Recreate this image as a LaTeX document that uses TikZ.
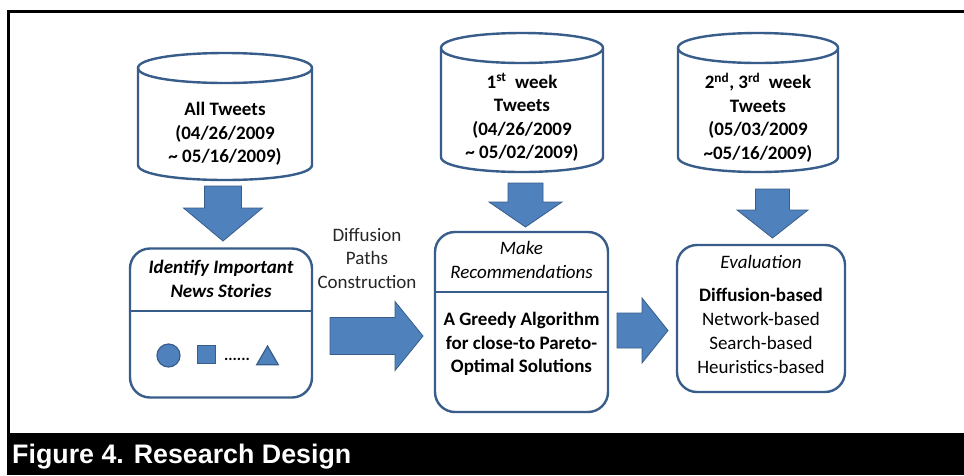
\documentclass[tikz,border=0pt]{standalone}
\usepackage{fontspec}
\setmainfont{Carlito}
\setsansfont{Liberation Sans}
\usetikzlibrary{shapes.geometric,positioning}
\definecolor{lineblue}{HTML}{385D8A}
\definecolor{fillblue}{HTML}{4F81BD}

\begin{document}
\begin{tikzpicture}[x=1pt, y=-1pt]
\tikzset{db/.style = {draw=lineblue, line width=2.4pt, fill=white, line join=round}}
\tikzset{stage/.style = {shape=rectangle, rounded corners=20pt, draw=lineblue, line width=2.4pt, inner sep=0pt}}
\tikzset{fat/.style = {fill=fillblue, draw=lineblue, line width=0.8pt, line join=miter}}
\tikzset{item/.style = {fill=fillblue, draw=lineblue, line width=1.2pt, inner sep=0pt}}
\tikzset{txt/.style = {font=\fontsize{19}{23.5}\selectfont, align=center, text=black, inner sep=0pt}}
% Page and frame
\useasboundingbox (0,0) rectangle (964,475);
\fill[white] (0,0) rectangle (964,475);
\draw[line width=3pt] (8,433) -- (8,11) -- (970,11);
\fill[black] (7,433) rectangle (964,475);
\node[anchor=base west, text=white, font=\sffamily\bfseries\fontsize{26.8}{30}\selectfont, inner sep=0pt] (caption) at (12,463) {Figure 4. Research Design};

% Tweet collections: left, right, top rim, bottom rim, name
\foreach \l/\r/\t/\b/\n in {138/312/68/165/db1, 441/603/48/157/db2, 678/838/48/157/db3}{
  \draw[db] (\l,\t) -- (\l,\b) .. controls (\l,\b+20) and (\r,\b+20) .. (\r,\b)
     -- (\r,\t) .. controls (\r,\t-20) and (\l,\t-20) .. (\l,\t) -- cycle;
  \draw[db, fill=none] (\l,\t) .. controls (\l,\t+20) and (\r,\t+20) .. (\r,\t);
  \coordinate (\n) at ({(\l+\r)/2},\b+15);
}
\node[txt, font=\fontsize{19}{23.5}\selectfont\bfseries] (db1text) at (225,134) {All Tweets\\(04/26/2009\\\textasciitilde{} 05/16/2009)};
\node[txt, font=\fontsize{19}{23.5}\selectfont\bfseries] (db2text) at (522,117.5) {1\textsuperscript{st}\ \ week\\Tweets\\(04/26/2009\\\textasciitilde{} 05/02/2009)};
\node[txt, font=\fontsize{19}{23.5}\selectfont\bfseries] (db3text) at (758,117.5) {2\textsuperscript{nd}, 3\textsuperscript{rd}\ \ week\\Tweets\\(05/03/2009\\\textasciitilde{}05/16/2009)};

% Stages
\node[stage, minimum width=182, minimum height=149] (box1) at (221,323) {};
\node[stage, minimum width=173, minimum height=180] (box2) at (521.5,322) {};
\node[stage, minimum width=168, minimum height=147] (box3) at (761,318.5) {};
\draw[lineblue, line width=2.4pt] (box1.west |- 0,311) -- (box1.east |- 0,311);
\draw[lineblue, line width=2.4pt] (box2.west |- 0,292) -- (box2.east |- 0,292);

\node[txt, font=\fontsize{19}{23.5}\selectfont\bfseries\itshape] (box1head) at (221,279) {Identify Important\\News Stories};
\node[txt, font=\fontsize{19}{23.5}\selectfont\itshape] (box2head) at (521.5,260) {Make\\Recommendations};
\node[txt, font=\fontsize{19}{23.5}\selectfont\bfseries] (box2body) at (521.5,344) {A Greedy Algorithm\\for close-to Pareto-\\Optimal Solutions};
\node[txt, font=\fontsize{19}{23.5}\selectfont\itshape] (box3head) at (761,262) {Evaluation};
\node[txt, font=\fontsize{19}{24}\selectfont] (box3body) at (761,331) {\textbf{Diffusion-based}\\Network-based\\Search-based\\Heuristics-based};

% Stories in box 1
\node[item, circle, minimum size=23] (story1) at (168.5,355.5) {};
\node[item, rectangle, minimum size=18] (story2) at (206.5,354.5) {};
\node[inner sep=0pt, font=\fontsize{16}{16}\selectfont\bfseries, anchor=base] (storydots) at (237,360) {......};
\node[item, regular polygon, regular polygon sides=3, minimum size=25] (story3) at (267.5,358.5) {};

% Block arrows down: centre, top, neck, tip, half shaft, half head
\foreach \c/\t/\k/\p/\s/\h in {223/186/208/241/18.5/39.5, 525.5/183/202/227/17.5/36.5, 772.5/189/210/238/17/35.5}{
  \filldraw[fat] (\c-\s,\t) -- (\c+\s,\t) -- (\c+\s,\k) -- (\c+\h,\k) -- (\c,\p)
     -- (\c-\h,\k) -- (\c-\s,\k) -- cycle;
}
% Block arrows right: middle, tail, neck, tip, half shaft, half head
\foreach \m/\t/\k/\p/\s/\h in {336/330/395/423/18.5/34.5, 330.5/617/642/668/17.5/32.5}{
  \filldraw[fat] (\t,\m-\s) -- (\k,\m-\s) -- (\k,\m-\h) -- (\p,\m) -- (\k,\m+\h)
     -- (\k,\m+\s) -- (\t,\m+\s) -- cycle;
}

\node[txt, text=black!85] (pathlabel) at (367,258) {Diffusion\\Paths\\Construction};

\end{tikzpicture}
\end{document}
